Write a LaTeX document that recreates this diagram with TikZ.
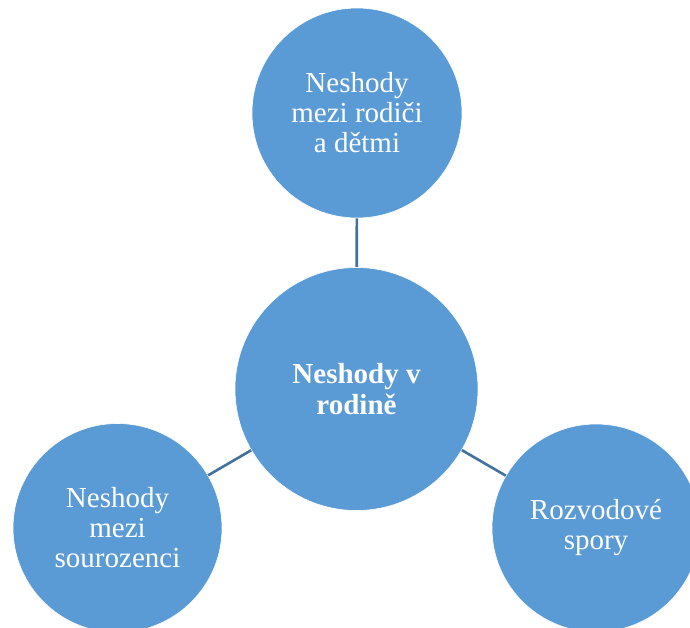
\documentclass[tikz,border=0pt]{standalone}
\usepackage{fontspec}
\setmainfont{Liberation Serif}
\definecolor{bubble}{HTML}{5B9BD5}
\definecolor{linkline}{HTML}{41719C}
\begin{document}
\begin{tikzpicture}[x=1pt,y=-1pt,
  bubble/.style={circle, fill=bubble, draw=white, line width=0.6pt, inner sep=0pt,
    align=center, text=white, font=\fontsize{29}{30}\selectfont},
  link/.style={draw=linkline, line width=2.6pt}]
  \useasboundingbox (0,0) rectangle (690,627);
  \begin{scope}
    \clip (0,0) rectangle (690,627);
    \node[bubble, minimum size=210pt] (parents) at (357,113) {Neshody\\mezi rodiči\\a dětmi};
    \node[bubble, minimum size=243pt, font=\fontsize{29}{31}\selectfont\bfseries] (family) at (356.5,389) {Neshody v\\rodině};
    \node[bubble, minimum size=209pt] (siblings) at (117.5,528) {Neshody\\mezi\\sourozenci};
    \node[bubble, minimum size=208pt] (divorce) at (596,528) {Rozvodové\\spory};
    \draw[link] (parents) -- (family);
    \draw[link] (family) -- (siblings);
    \draw[link] (family) -- (divorce);
  \end{scope}
\end{tikzpicture}
\end{document}
